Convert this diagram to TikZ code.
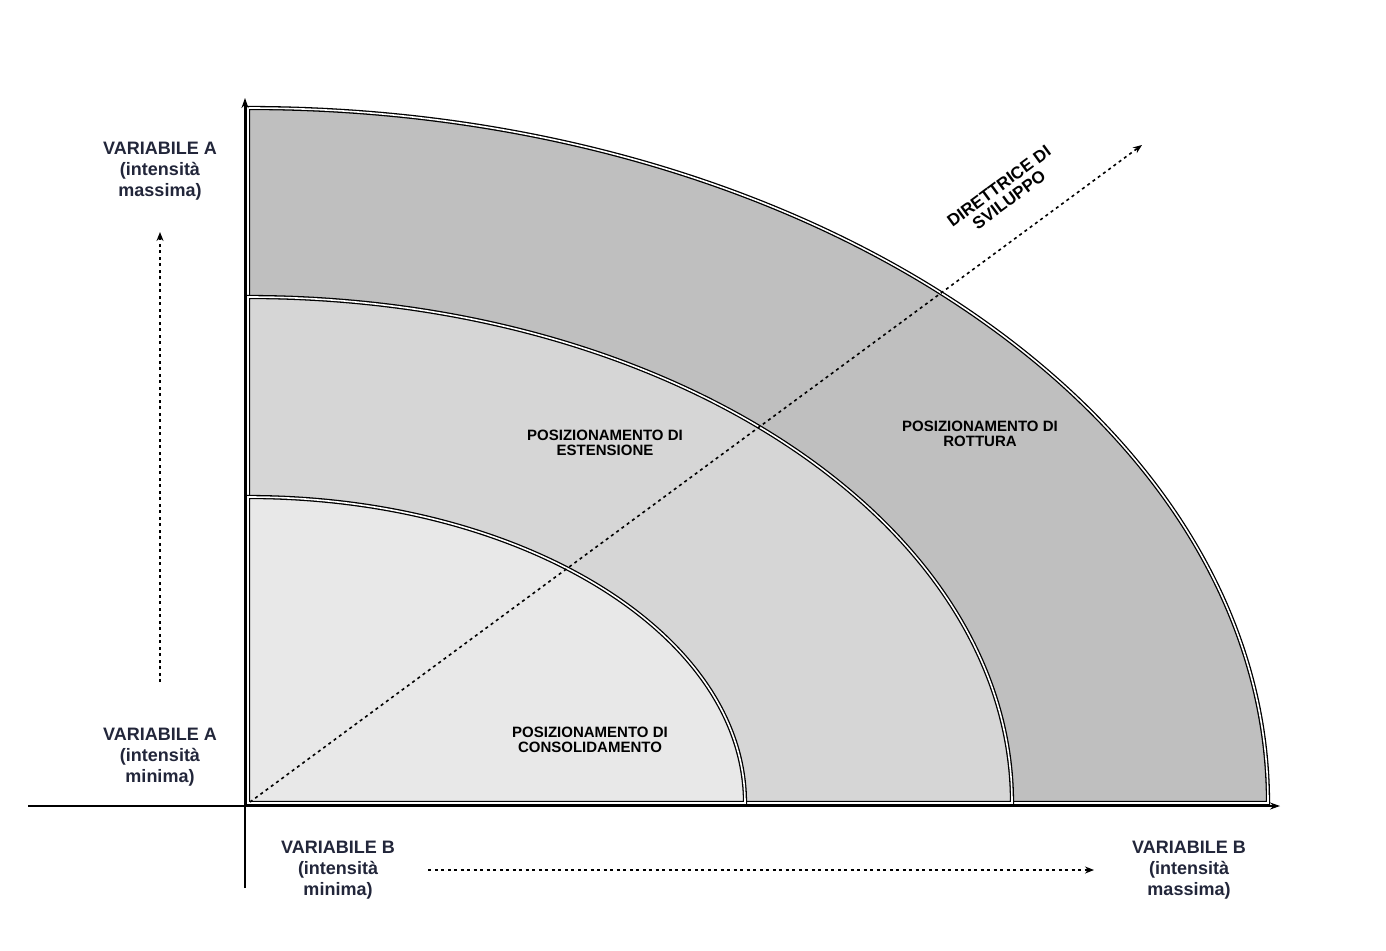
\documentclass[tikz,border=0pt]{standalone}
\usepackage{fontspec}
\setmainfont{Liberation Sans}
\usetikzlibrary{arrows.meta}
\definecolor{txt}{HTML}{22263A}
\begin{document}
\begin{tikzpicture}[x=1pt,y=-1pt,
  region/.style={draw=black,double=white,double distance=1.6pt,line width=1.3pt},
  lab/.style={text=txt,font=\bfseries\fontsize{18}{21}\selectfont,align=center},
  rlab/.style={text=black,font=\bfseries\fontsize{15}{15}\selectfont,align=center},
  dots/.style={line width=1.6pt,dash pattern=on 3pt off 3.5pt,-{Stealth[length=9pt,width=7pt]}}]
\useasboundingbox (0,0) rectangle (1386,950);
\coordinate (O) at (248,803);
\fill[white] (0,0) rectangle (1386,950);
\draw[region,fill=black!25] (O) -- ++(1020,0) arc[start angle=0,end angle=90,x radius=1020,y radius=-695] -- cycle;
\draw[region,fill=black!16] (O) -- ++(764,0) arc[start angle=0,end angle=90,x radius=764,y radius=-506] -- cycle;
\draw[region,fill=black!9] (O) -- ++(497,0) arc[start angle=0,end angle=90,x radius=497,y radius=-306] -- cycle;
\coordinate (xs) at (28,806); \coordinate (xe) at (1280,806);
\coordinate (ys) at (245,888); \coordinate (ye) at (245,98);
\draw[line width=1.3pt,-{Stealth[length=10pt,width=7pt]}] (xs) -- (xe);
\draw[line width=1.3pt,-{Stealth[length=10pt,width=7pt]}] (ys) -- (ye);
\coordinate (ds) at (250,802); \coordinate (de) at (1142,145);
\draw[dots] (ds) -- (de);
\coordinate (vs) at (160,682); \coordinate (ve) at (160,232);
\draw[dots] (vs) -- (ve);
\coordinate (hs) at (428,870); \coordinate (he) at (1094,870);
\draw[dots] (hs) -- (he);
\node[lab] (a1) at (160,171) {VARIABILE A\\(intensità\\massima)};
\node[lab] (a2) at (160,757) {VARIABILE A\\(intensità\\minima)};
\node[lab] (b1) at (338,870) {VARIABILE B\\(intensità\\minima)};
\node[lab] (b2) at (1189,870) {VARIABILE B\\(intensità\\massima)};
\node[rlab] (r1) at (590,740) {POSIZIONAMENTO DI\\CONSOLIDAMENTO};
\node[rlab] (r2) at (605,443) {POSIZIONAMENTO DI\\ESTENSIONE};
\node[rlab] (r3) at (980,434) {POSIZIONAMENTO DI\\ROTTURA};
\node[rlab,font=\bfseries\fontsize{17}{17}\selectfont,rotate=36.4] (d) at (1004,193) {DIRETTRICE DI\\SVILUPPO};
\end{tikzpicture}
\end{document}
